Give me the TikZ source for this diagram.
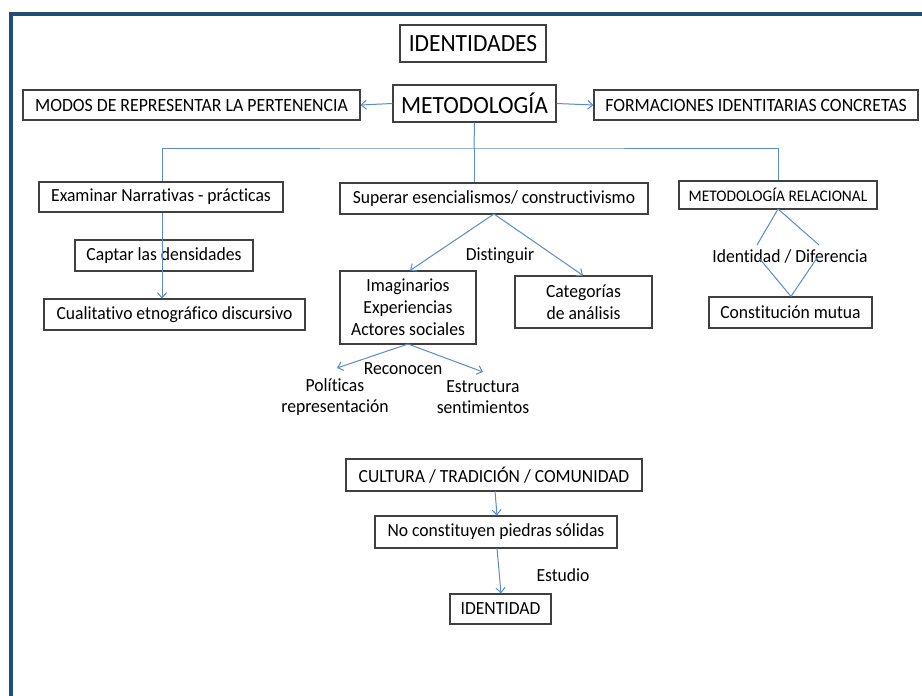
\documentclass[tikz,border=0pt]{standalone}
\usepackage{fontspec}
\setmainfont{Carlito}[FakeStretch=0.95, Ligatures=NoCommon]
\usetikzlibrary{arrows.meta}
\definecolor{framec}{HTML}{1F4E79}
\definecolor{linkc}{HTML}{5B8BC9}
\definecolor{boxc}{HTML}{404040}
\tikzset{
  box/.style={draw=boxc, line width=1.1pt, inner sep=0pt, align=center, text=black},
  link/.style={draw=linkc, line width=1pt},
  arr/.style={link, -{Straight Barb[length=5pt,width=9pt,line width=1pt]}},
  lbl/.style={inner sep=0pt, align=center, text=black},
}
\begin{document}
\begin{tikzpicture}[x=1pt, y=-1pt, font=\fontsize{18.5}{22}\selectfont]
\useasboundingbox (0,0) rectangle (922,696);
\fill[white] (0,0) rectangle (922,696);
% frame of the slide
\fill[framec] (9,12) rectangle (922,16);
\fill[framec] (9,12) rectangle (13,696);

% top level
\node[box, minimum width=146pt, minimum height=37pt, font=\fontsize{24.7}{28}\selectfont] (ids) at (473,43.5) {IDENTIDADES};
\node[box, minimum width=163pt, minimum height=37pt, font=\fontsize{24.7}{28}\selectfont] (met) at (474.5,103.5) {METODOLOGÍA};
\node[box, minimum width=337pt, minimum height=30pt, font=\fontsize{18.7}{21}\selectfont] (modos) at (191.5,105) {MODOS DE REPRESENTAR LA PERTENENCIA};
\node[box, minimum width=324pt, minimum height=30pt, font=\fontsize{18.7}{21}\selectfont] (form) at (756,105) {FORMACIONES IDENTITARIAS CONCRETAS};
\draw[arr] (met.west) -- (modos.east);
\draw[arr] (met.east) -- (form.west);

% second level
\node[box, minimum width=244pt, minimum height=30pt] (exam) at (161,197) {Examinar Narrativas - prácticas};
\node[box, minimum width=308pt, minimum height=31pt] (sup) at (494,198.5) {Superar esencialismos/ constructivismo};
\node[box, minimum width=198pt, minimum height=28pt, font=\fontsize{16.2}{18}\selectfont] (rel) at (778,195) {METODOLOGÍA RELACIONAL};

\coordinate (bus) at (474,148);
\draw[link] (met.south) -- (bus);
\draw[link] (exam.north -| 162,0) |- (bus) -| (rel.north);
\draw[link] (sup.north -| bus) -- (bus);

% left branch
\node[box, minimum width=178pt, minimum height=31pt] (capt) at (164,255.5) {Captar las densidades};
\node[box, minimum width=261pt, minimum height=31pt] (cual) at (174.5,314.5) {Cualitativo etnográfico discursivo};
\draw[arr] (exam.south -| 162,0) -- (cual.north -| 162,0);

% middle branch
\node[box, minimum width=136pt, minimum height=73pt, font=\fontsize{18.5}{22}\selectfont] (imag) at (408,307.5) {Imaginarios\\Experiencias\\Actores sociales};
\node[box, minimum width=137pt, minimum height=52pt, font=\fontsize{18.5}{22}\selectfont] (cat) at (583.5,302) {Categorías\\de análisis};
\coordinate (supb) at (494,214);
\draw[arr] (supb) -- (410,270.5);
\draw[arr] (supb) -- (583,275.5);
\node[lbl] (dist) at (500,256) {Distinguir};

\coordinate (imagb) at (408,344);
\node[lbl] (rec) at (403,369) {Reconocen};
\node[lbl, font=\fontsize{18.5}{21}\selectfont] (pol) at (335,397) {Políticas\\representación};
\node[lbl, font=\fontsize{18.5}{21}\selectfont] (est) at (483,397) {Estructura\\sentimientos};
\draw[arr] (imagb) -- (337,368);
\draw[arr] (imagb) -- (483,372);

% right branch
\node[lbl] (iddif) at (790,256) {Identidad / Diferencia};
\node[box, minimum width=163pt, minimum height=31pt] (cons) at (790.5,312.5) {Constitución mutua};
\coordinate (relb) at (778,209);
\draw[link] (relb) -- (757,245);
\draw[link] (relb) -- (819,245);
\draw[link] (759,258) -- (cons.north -| 791,0);
\draw[link] (817,258) -- (cons.north -| 791,0);

% bottom chain
\node[box, minimum width=296pt, minimum height=32pt] (cult) at (494,475) {CULTURA / TRADICIÓN / COMUNIDAD};
\node[box, minimum width=242pt, minimum height=32pt] (nocons) at (496,532) {No constituyen piedras sólidas};
\node[box, minimum width=101pt, minimum height=30pt] (iddad) at (500.5,609) {IDENTIDAD};
\draw[arr] (495,491) -- (nocons.north -| 497,0);
\draw[arr] (497,548) -- (iddad.north -| 501,0);
\node[lbl] (estu) at (563,575) {Estudio};
\end{tikzpicture}
\end{document}
